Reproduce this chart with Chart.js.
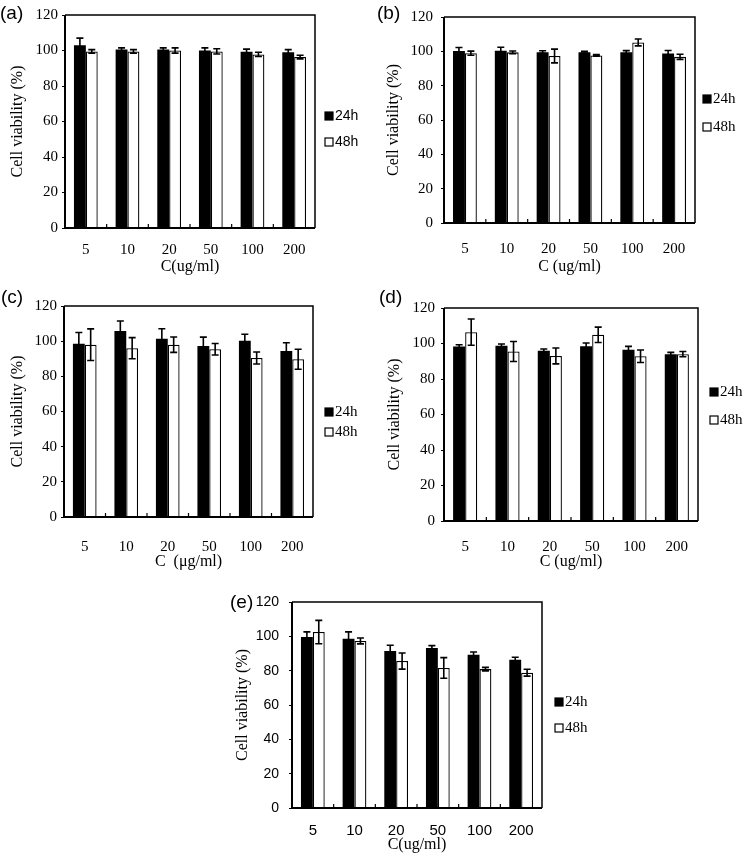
<!DOCTYPE html>
<html>
<head>
<meta charset="utf-8">
<script src="https://cdn.jsdelivr.net/npm/chart.js@4/dist/chart.umd.min.js"></script>
<style>
  body { margin: 0; background: #fff; }
  #page { position: relative; width: 749px; height: 857px; overflow: hidden; background: #fff; }
  canvas { position: absolute; }
</style>
</head>
<body>
<div id="page">
  <canvas id="chartA"></canvas>
  <canvas id="chartB"></canvas>
  <canvas id="chartC"></canvas>
  <canvas id="chartD"></canvas>
  <canvas id="chartE"></canvas>
</div>
<script>
// Cell viability after 24h / 48h at each concentration, five samples (a)-(e)
const concentrations = ['5', '10', '20', '50', '100', '200'];
const yTickValues = [0, 20, 40, 60, 80, 100, 120];
const seriesLabels = ['24h', '48h'];

const a24 = [103, 100.5, 100.5, 100, 99.3, 99];
const a24Err = [4, 1, 1, 1.5, 1.5, 1.5];
const a48 = [99.5, 99.5, 100, 99.5, 97.8, 96.3];
const a48Err = [1, 1, 1.5, 1.5, 1.2, 1];

const b24 = [100.2, 100.4, 99.5, 99.4, 99.4, 98.7];
const b24Err = [2, 2, 0.8, 0.6, 1, 1.8];
const b48 = [98.9, 99.4, 97.3, 97.6, 105.2, 96.8];
const b48Err = [1.2, 0.8, 4, 0.5, 2, 1.5];

const c24 = [98.6, 105.8, 101.4, 97.3, 100.3, 94.4];
const c24Err = [6.3, 5.7, 5.7, 5, 3.6, 4.7];
const c48 = [98, 96, 98, 95.4, 90.4, 89.7];
const c48Err = [9, 6, 4.4, 3.3, 3.4, 5.7];

const d24 = [98.3, 98.7, 95.9, 98.5, 96.5, 94];
const d24Err = [1, 1, 1, 1.8, 1.9, 1];
const d48 = [106.4, 95.5, 93, 104.9, 92.8, 94];
const d48Err = [7.4, 5.6, 4.5, 4.3, 3.5, 1.5];

const e24 = [99.6, 98.6, 91.5, 93.2, 89.3, 86.4];
const e24Err = [3, 4, 3.3, 1.4, 1.6, 1.4];
const e48 = [102.5, 97.3, 85.6, 81.6, 80.9, 78.8];
const e48Err = [6.8, 1.7, 4.7, 6, 1, 2];

const SERIF = '"Liberation Serif", "Times New Roman", serif';
const SANS = '"Liberation Sans", Arial, sans-serif';

// error bars, frame, inward x ticks, legend and panel letter
const panelDecor = {
  id: 'panelDecor',
  afterDatasetsDraw(chart) {
    const ctx = chart.ctx;
    const y = chart.scales.y;
    ctx.save();
    ctx.strokeStyle = '#000';
    ctx.lineWidth = 1.6;
    chart.data.datasets.forEach((ds, di) => {
      chart.getDatasetMeta(di).data.forEach((bar, i) => {
        const top = y.getPixelForValue(ds.data[i] + ds.errors[i]);
        const bot = y.getPixelForValue(ds.data[i] - ds.errors[i]);
        ctx.beginPath();
        ctx.moveTo(bar.x, top); ctx.lineTo(bar.x, bot);
        ctx.moveTo(bar.x - 3.5, top); ctx.lineTo(bar.x + 3.5, top);
        ctx.moveTo(bar.x - 3.5, bot); ctx.lineTo(bar.x + 3.5, bot);
        ctx.stroke();
      });
    });
    ctx.restore();
  },
  afterDraw(chart, args, o) {
    const ctx = chart.ctx;
    const a = chart.chartArea;
    const x = chart.scales.x;
    ctx.save();
    ctx.strokeStyle = '#000';
    // frame
    ctx.lineWidth = 1.5;
    ctx.beginPath();
    ctx.moveTo(a.left, a.top); ctx.lineTo(a.right, a.top); ctx.lineTo(a.right, a.bottom);
    ctx.stroke();
    ctx.lineWidth = 2;
    ctx.beginPath();
    ctx.moveTo(a.left, a.top); ctx.lineTo(a.left, a.bottom); ctx.lineTo(a.right, a.bottom);
    ctx.stroke();
    // inward ticks between categories
    ctx.lineWidth = 1.2;
    ctx.beginPath();
    for (let i = 1; i < concentrations.length; i++) {
      const px = (x.getPixelForValue(i - 1) + x.getPixelForValue(i)) / 2;
      ctx.moveTo(px, a.bottom); ctx.lineTo(px, a.bottom - 4);
    }
    ctx.stroke();
    // legend
    ctx.font = o.legendFont;
    ctx.textBaseline = 'middle';
    ctx.textAlign = 'left';
    chart.data.datasets.forEach((ds, di) => {
      const cy = o.legendY[di];
      ctx.fillStyle = ds.backgroundColor;
      ctx.fillRect(o.legendX, cy - 4, 8, 8);
      ctx.lineWidth = 1.2;
      ctx.strokeRect(o.legendX, cy - 4, 8, 8);
      ctx.fillStyle = '#000';
      ctx.fillText(ds.label, o.legendX + 10, cy + 0.5);
    });
    // panel letter
    ctx.font = '19px ' + SANS;
    ctx.fillText(o.letter, o.letterX, o.letterY);
    ctx.restore();
  }
};

function makePanel(id, p) {
  const cv = document.getElementById(id);
  cv.style.left = p.cx + 'px';
  cv.style.top = p.cy + 'px';
  cv.width = p.cw;
  cv.height = p.ch;
  const L = p.box[0] - p.cx, T = p.box[1] - p.cy, R = p.box[2] - p.cx, B = p.box[3] - p.cy;
  const xH = p.xTitleY - p.cy - B + 9.6;
  return new Chart(cv, {
    type: 'bar',
    data: {
      labels: concentrations,
      datasets: [
        { label: seriesLabels[0], data: p.s24, errors: p.e24, backgroundColor: '#000', borderWidth: 0 },
        { label: seriesLabels[1], data: p.s48, errors: p.e48, backgroundColor: '#fff', borderColor: '#000', borderWidth: 1.3 }
      ]
    },
    options: {
      responsive: false,
      animation: false,
      events: [],
      categoryPercentage: 0.57,
      barPercentage: 1.0,
      layout: { padding: { left: 0, top: T, right: p.cw - R, bottom: p.ch - B - xH } },
      plugins: {
        legend: { display: false },
        tooltip: { enabled: false },
        panelDecor: {
          legendFont: p.legendFont,
          legendX: p.legendX - p.cx,
          legendY: [p.legendY[0] - p.cy, p.legendY[1] - p.cy],
          letter: p.letter,
          letterX: p.letterX - p.cx,
          letterY: p.letterY - p.cy
        }
      },
      scales: {
        x: {
          grid: { display: false },
          border: { display: false },
          ticks: { color: '#000', font: { family: p.xFont, size: 15 }, padding: p.xTickY - p.cy - B - 9 },
          title: { display: true, text: p.xTitle, color: '#000', font: { family: SERIF, size: 16 }, padding: 0 },
          afterFit: s => { s.height = xH; }
        },
        y: {
          min: 0,
          max: 120,
          afterBuildTicks: s => { s.ticks = yTickValues.map(v => ({ value: v })); },
          grid: { drawOnChartArea: false, drawTicks: true, tickLength: 3, color: '#000', lineWidth: 1 },
          border: { display: false },
          ticks: { color: '#000', font: { family: p.yFont, size: p.yFontSize }, padding: p.yTickGap - 3 },
          title: { display: true, text: 'Cell viability (%)', color: '#000', font: { family: SERIF, size: 16 }, padding: { top: p.yTitleX - p.cx - 9.6, bottom: 0 } },
          afterFit: s => { s.width = L; }
        }
      }
    },
    plugins: [panelDecor]
  });
}

makePanel('chartA', {
  cx: 0, cy: 0, cw: 372, ch: 283, box: [65, 15, 315, 228],
  s24: a24, e24: a24Err, s48: a48, e48: a48Err,
  xTitle: 'C(ug/ml)', xTitleY: 267, xTickY: 242, xFont: SERIF,
  yFont: SERIF, yFontSize: 15, yTickGap: 7, yTitleX: 18,
  legendFont: '14px ' + SANS, legendX: 325, legendY: [116, 142],
  letter: '(a)', letterX: 0, letterY: 14
});
makePanel('chartB', {
  cx: 375, cy: 0, cw: 374, ch: 283, box: [444, 15, 695, 223],
  s24: b24, e24: b24Err, s48: b48, e48: b48Err,
  xTitle: 'C (ug/ml)', xTitleY: 267, xTickY: 241, xFont: SERIF,
  yFont: SERIF, yFontSize: 15, yTickGap: 11, yTitleX: 394,
  legendFont: '15px ' + SERIF, legendX: 703, legendY: [99, 127],
  letter: '(b)', letterX: 377, letterY: 14
});
makePanel('chartC', {
  cx: 0, cy: 285, cw: 372, ch: 285, box: [64, 306, 313, 517],
  s24: c24, e24: c24Err, s48: c48, e48: c48Err,
  xTitle: 'C  (μg/ml)', xTitleY: 562, xTickY: 539, xFont: SERIF,
  yFont: SERIF, yFontSize: 15, yTickGap: 7, yTitleX: 18,
  legendFont: '15px ' + SERIF, legendX: 325, legendY: [412, 432],
  letter: '(c)', letterX: 1, letterY: 298
});
makePanel('chartD', {
  cx: 375, cy: 285, cw: 374, ch: 285, box: [444, 308, 698, 521],
  s24: d24, e24: d24Err, s48: d48, e48: d48Err,
  xTitle: 'C (ug/ml)', xTitleY: 562, xTickY: 539, xFont: SERIF,
  yFont: SERIF, yFontSize: 15, yTickGap: 9, yTitleX: 395,
  legendFont: '15px ' + SERIF, legendX: 710, legendY: [392, 420],
  letter: '(d)', letterX: 379, letterY: 298
});
makePanel('chartE', {
  cx: 215, cy: 575, cw: 385, ch: 282, box: [292, 602, 542, 808],
  s24: e24, e24: e24Err, s48: e48, e48: e48Err,
  xTitle: 'C(ug/ml)', xTitleY: 845, xTickY: 823, xFont: SANS,
  yFont: SANS, yFontSize: 14, yTickGap: 13, yTitleX: 243,
  legendFont: '15px ' + SERIF, legendX: 555, legendY: [702, 728],
  letter: '(e)', letterX: 230, letterY: 603
});
</script>
</body>
</html>
